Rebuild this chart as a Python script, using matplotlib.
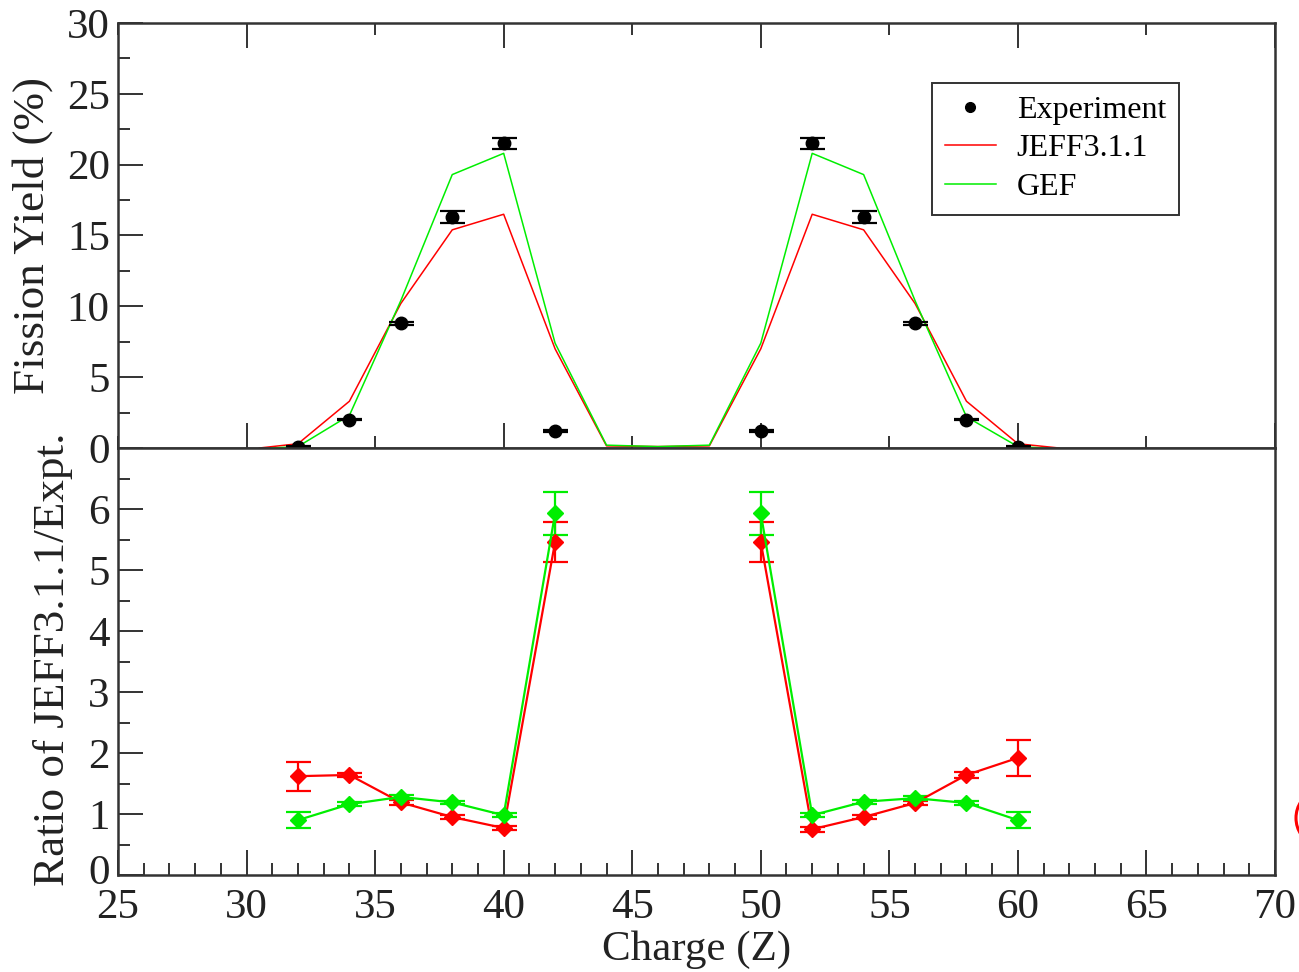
import matplotlib
matplotlib.use("Agg")
import matplotlib.pyplot as plt
import matplotlib.transforms as mtransforms
import numpy as np
from matplotlib.lines import Line2D
from matplotlib.patches import Ellipse
from matplotlib.ticker import MultipleLocator

plt.rcParams["font.family"] = ["Liberation Serif", "DejaVu Serif"]
plt.rcParams["mathtext.fontset"] = "stix"

# experiment yields (%)
z_exp = [32, 34, 36, 38, 40, 42, 50, 52, 54, 56, 58, 60]
y_exp = [0.1, 2.0, 8.8, 16.3, 21.5, 1.2, 1.2, 21.5, 16.3, 8.8, 2.0, 0.1]
y_exp_err = [0.05, 0.05, 0.1, 0.4, 0.4, 0.05, 0.05, 0.4, 0.4, 0.1, 0.05, 0.05]

# model yields (%)
z_jeff = [30.5, 32, 34, 36, 38, 40, 42, 44, 46, 48, 50, 52, 54, 56, 58, 60, 61.6]
y_jeff = [0.0, 0.3, 3.3, 10.2, 15.4, 16.5, 7.0, 0.15, 0.1, 0.15, 7.0, 16.5, 15.4, 10.2, 3.3, 0.3, 0.0]
z_gef = [31, 32, 34, 36, 38, 40, 42, 44, 46, 48, 50, 52, 54, 56, 58, 60, 61]
y_gef = [0.0, 0.1, 2.3, 10.4, 19.3, 20.8, 7.4, 0.2, 0.1, 0.2, 7.4, 20.8, 19.3, 10.4, 2.2, 0.1, 0.0]

# ratios model / experiment
z_left = [32, 34, 36, 38, 40, 42]
z_right = [50, 52, 54, 56, 58, 60]
r_jeff_left = [1.62, 1.64, 1.19, 0.95, 0.77, 5.46]
r_jeff_left_err = [0.24, 0.04, 0.04, 0.04, 0.04, 0.33]
r_jeff_right = [5.46, 0.75, 0.95, 1.18, 1.64, 1.92]
r_jeff_right_err = [0.33, 0.04, 0.04, 0.04, 0.05, 0.29]
r_gef_left = [0.90, 1.16, 1.28, 1.19, 0.98, 5.93]
r_gef_left_err = [0.13, 0.03, 0.03, 0.03, 0.03, 0.35]
r_gef_right = [5.93, 0.98, 1.20, 1.26, 1.18, 0.90]
r_gef_right_err = [0.35, 0.03, 0.03, 0.03, 0.03, 0.13]

RED = "#ff0000"
GREEN = "#00ee00"
SPINE = "#333333"
W, H = 1299, 972

fig = plt.figure(figsize=(W / 100, H / 100), dpi=100)
ax1 = fig.add_axes([118 / W, 1 - 448 / H, 1157 / W, 425 / H])
ax2 = fig.add_axes([118 / W, 1 - 875 / H, 1157 / W, 427 / H])

for ax in (ax1, ax2):
    for s in ax.spines.values():
        s.set_linewidth(1.8)
        s.set_color(SPINE)
    ax.tick_params(which="both", direction="in", colors=SPINE, width=1.4,
                   labelsize=31, labelcolor="#222222", pad=6)
    ax.tick_params(which="major", length=18)
    ax.tick_params(which="minor", length=8.5)
    ax.set_xlim(25, 70)
ax2.tick_params(axis="x", pad=10)

# top panel
ax1.plot(z_jeff, y_jeff, color=RED, lw=1.1, zorder=2)
ax1.plot(z_gef, y_gef, color=GREEN, lw=1.1, zorder=3)
ax1.errorbar(z_exp, y_exp, yerr=y_exp_err, fmt="o", color="black", ms=9,
             capsize=9, elinewidth=1.4, capthick=1.6, zorder=4)
ax1.set_ylim(0, 30)
ax1.yaxis.set_major_locator(MultipleLocator(5))
ax1.yaxis.set_minor_locator(MultipleLocator(2.5))
ax1.xaxis.set_major_locator(MultipleLocator(10))
ax1.xaxis.set_minor_locator(MultipleLocator(5))
ax1.tick_params(axis="x", which="both", top=True, bottom=True, labelbottom=False)

handles = [
    Line2D([], [], marker="o", ms=7, color="black", ls="none"),
    Line2D([], [], color=RED, lw=1.1),
    Line2D([], [], color=GREEN, lw=1.1),
]
leg = ax1.legend(handles, ["Experiment", "JEFF3.1.1", "GEF"], loc="upper left",
                 bbox_to_anchor=(932 / W, 1 - 83 / H), bbox_transform=fig.transFigure,
                 fontsize=23, frameon=True, fancybox=False, borderpad=0.4,
                 handlelength=1.6, handletextpad=0.65, labelspacing=0.28,
                 borderaxespad=0)
leg.get_frame().set_edgecolor("black")
leg.get_frame().set_linewidth(1.4)

# bottom panel
for zz, rr, ee, col in [(z_left, r_jeff_left, r_jeff_left_err, RED),
                        (z_right, r_jeff_right, r_jeff_right_err, RED),
                        (z_left, r_gef_left, r_gef_left_err, GREEN),
                        (z_right, r_gef_right, r_gef_right_err, GREEN)]:
    ax2.errorbar(zz, rr, yerr=ee, fmt="-D", color=col, ms=8, lw=1.6,
                 capsize=9, elinewidth=1.6, capthick=1.6)
ax2.set_ylim(0, 7)
ax2.set_yticks(range(0, 7))
ax2.yaxis.set_minor_locator(MultipleLocator(0.5))
ax2.xaxis.set_major_locator(MultipleLocator(5))
ax2.xaxis.set_minor_locator(MultipleLocator(1))

# nudge the bottom "0" up a little so it does not collide with "25"
lab0 = ax2.yaxis.get_major_ticks()[0].label1
lab0.set_transform(lab0.get_transform() +
                   mtransforms.ScaledTranslation(0, 4 / 72, fig.dpi_scale_trans))

fig.text(33 / W, 1 - 236 / H, "Fission Yield (%)", rotation=90, ha="center",
         va="center", fontsize=32.5, color="#222222")
fig.text(53 / W, 1 - 659 / H, "Ratio of JEFF3.1.1/Expt.", rotation=90, ha="center",
         va="center", fontsize=32.5, color="#222222")
fig.text(697 / W, 1 - 950 / H, "Charge (Z)", ha="center", va="center",
         fontsize=31, color="#222222")

# cropped red circle at the right edge
fig.add_artist(Ellipse((1313 / W, 1 - 818 / H), 34 / W, 46 / H, fill=False,
                       edgecolor=RED, lw=2.2, transform=fig.transFigure, clip_on=False))

fig.savefig("out.png", dpi=100)
